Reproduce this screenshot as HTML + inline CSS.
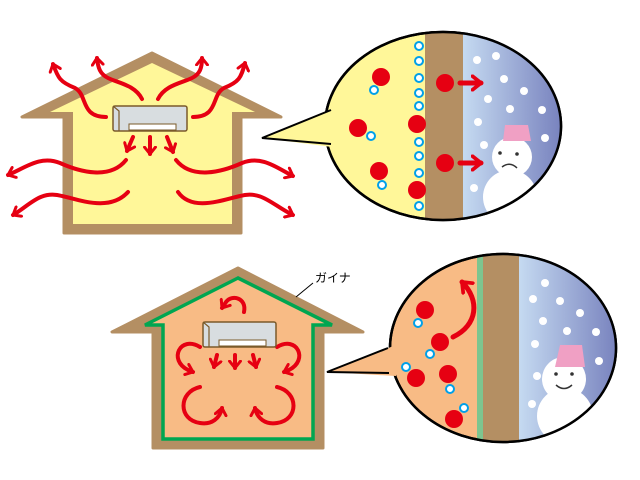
<!DOCTYPE html>
<html><head><meta charset="utf-8"><style>html,body{margin:0;padding:0;background:#fff}svg{display:block}</style></head><body>
<svg width="640" height="480" viewBox="0 0 640 480" xmlns="http://www.w3.org/2000/svg">
<defs>
<marker id="ah" viewBox="0 0 10 10" refX="6" refY="5" markerWidth="3.4" markerHeight="3.4" orient="auto" markerUnits="strokeWidth">
<polyline points="1,1 6,5 1,9" fill="none" stroke="#e60012" stroke-width="2.2" stroke-linecap="round" stroke-linejoin="round"/>
</marker>
<linearGradient id="sky" x1="0" x2="1" y1="0" y2="0"><stop offset="0" stop-color="#c5daf1"/><stop offset="1" stop-color="#6f78b8"/></linearGradient>
<clipPath id="c1"><ellipse cx="443" cy="126" rx="118" ry="94"/></clipPath>
<clipPath id="c2"><ellipse cx="503" cy="348" rx="113" ry="94"/></clipPath>
</defs>

<!-- TOP HOUSE -->
<polygon points="152,53 22,117 64,117 64,233 241,233 241,117 281,117" fill="#b48f63" stroke="#b48f63" stroke-width="3" stroke-linejoin="round"/>
<polygon points="152,63 50,112 73,112 73,224 232,224 232,112 255,112" fill="#fff799"/>
<g fill="none" stroke="#e60012" stroke-width="4" stroke-linecap="round" marker-end="url(#ah)">
<path d="M106,117 C80,117 88,95 75,88 C60,82 58,78 53,64"/>
<path d="M142,99 C135,85 118,83 108,78 C100,74 98,68 97,58"/>
<path d="M158,99 C165,85 182,83 192,78 C200,74 202,68 202,58"/>
<path d="M193,117 C219,117 211,95 224,88 C239,82 241,78 245,63"/>
<path d="M133,137 L127,151"/>
<path d="M150,137 L150,154"/>
<path d="M167,137 L173,152"/>
<path d="M126,160 C110,180 80,172 60,163 C40,155 25,168 8,175"/>
<path d="M128,192 C110,212 80,200 62,196 C40,190 30,205 13,215"/>
<path d="M176,160 C192,180 222,172 242,163 C262,155 277,168 293,176"/>
<path d="M178,192 C192,212 222,200 240,196 C262,190 272,205 293,215"/>
</g>
<rect x="113" y="106" width="74" height="25" rx="2" fill="#d8dde0" stroke="#7a5a2a" stroke-width="1.5"/>
<path d="M113,106 L119,111 L119,131" fill="none" stroke="#7a5a2a" stroke-width="1.2"/>
<rect x="129" y="124" width="47" height="6" fill="#fff" stroke="#7a5a2a" stroke-width="1"/>

<!-- TOP BUBBLE -->
<ellipse cx="443" cy="126" rx="118" ry="94" fill="#fff799" stroke="#000" stroke-width="2.5"/>
<g clip-path="url(#c1)">
<rect x="463" y="20" width="110" height="210" fill="url(#sky)"/>
<rect x="425" y="20" width="38" height="210" fill="#b48f63"/>
<g fill="#fff">
<circle cx="477" cy="60" r="4"/><circle cx="496" cy="56" r="4"/><circle cx="504" cy="79" r="4"/><circle cx="524" cy="91" r="4"/><circle cx="488" cy="99" r="4"/><circle cx="510" cy="109" r="4"/><circle cx="542" cy="110" r="4"/><circle cx="478" cy="122" r="4"/><circle cx="545" cy="138" r="4"/><circle cx="484" cy="145" r="4"/><circle cx="474" cy="188" r="4"/>
<circle cx="510" cy="197" r="27"/><circle cx="512" cy="157" r="20"/>
</g>
<polygon points="505,125 528,125 531,141 503,141" fill="#f0a0c4"/>
<circle cx="500" cy="153" r="1.8" fill="#333"/><circle cx="517" cy="154" r="1.8" fill="#333"/>
<path d="M502,167 Q510,161 517,168" fill="none" stroke="#333" stroke-width="1.5"/>
</g>
<ellipse cx="443" cy="126" rx="118" ry="94" fill="none" stroke="#000" stroke-width="2.5"/>
<polygon points="262,138 336,108 340,148" fill="#fff799"/>
<polyline points="331,110 262,138 331,144" fill="none" stroke="#000" stroke-width="2"/>
<g fill="#e60012">
<circle cx="381" cy="77" r="9"/><circle cx="358" cy="128" r="9"/><circle cx="379" cy="171" r="9"/><circle cx="417" cy="124" r="9"/><circle cx="417" cy="190" r="9"/><circle cx="445" cy="83" r="9"/><circle cx="445" cy="163" r="9"/>
</g>
<g fill="#fff" stroke="#00a0e9" stroke-width="2">
<circle cx="374" cy="90" r="4"/><circle cx="371" cy="136" r="4"/><circle cx="382" cy="185" r="4"/>
<circle cx="419" cy="46" r="4"/><circle cx="419" cy="61" r="4"/><circle cx="419" cy="78" r="4"/><circle cx="419" cy="93" r="4"/><circle cx="419" cy="106" r="4"/><circle cx="419" cy="142" r="4"/><circle cx="419" cy="156" r="4"/><circle cx="419" cy="173" r="4"/><circle cx="419" cy="206" r="4"/>
</g>
<g fill="none" stroke="#e60012" stroke-width="5" stroke-linecap="round" marker-end="url(#ah)">
<path d="M460,83 L481,83"/><path d="M460,163 L481,163"/>
</g>

<!-- BOTTOM HOUSE -->
<polygon points="238,268 112,332 153,332 153,448 323,448 323,332 363,332" fill="#b48f63" stroke="#b48f63" stroke-width="3" stroke-linejoin="round"/>
<polygon points="238,278 145,325 163,325 163,439 313,439 313,325 332,325" fill="#f8bb85" stroke="#00a651" stroke-width="3.5" stroke-linejoin="miter"/>
<g fill="none" stroke="#e60012" stroke-width="4" stroke-linecap="round" marker-end="url(#ah)">
<path d="M244,312 C247,298 232,294 226,302 L222,308"/>
<path d="M200,347 C180,335 168,360 188,370 L193,372"/>
<path d="M277,347 C297,335 309,360 289,370 L284,372"/>
<path d="M200,387 C178,392 178,420 200,423 C212,425 220,418 222,408"/>
<path d="M277,387 C299,392 299,420 277,423 C265,425 257,418 255,408"/>
<path d="M217,355 L214,367"/><path d="M235,355 L235,368"/><path d="M253,355 L256,367"/>
</g>
<rect x="203" y="322" width="73" height="25" rx="2" fill="#d8dde0" stroke="#7a5a2a" stroke-width="1.5"/>
<path d="M203,322 L209,327 L209,347" fill="none" stroke="#7a5a2a" stroke-width="1.2"/>
<rect x="219" y="340" width="47" height="6" fill="#fff" stroke="#7a5a2a" stroke-width="1"/>
<line x1="313" y1="283" x2="296" y2="297" stroke="#000" stroke-width="1"/>
<text x="315" y="282" font-family="Liberation Sans, Noto Sans CJK JP, sans-serif" font-size="12" fill="#000">ガイナ</text>

<!-- BOTTOM BUBBLE -->
<ellipse cx="503" cy="348" rx="113" ry="94" fill="#f8bb85" stroke="#000" stroke-width="2.5"/>
<g clip-path="url(#c2)">
<rect x="519" y="245" width="110" height="210" fill="url(#sky)"/>
<rect x="483" y="245" width="36" height="210" fill="#b48f63"/>
<rect x="477" y="245" width="6" height="210" fill="#7dc58f"/>
<g fill="#fff">
<circle cx="545" cy="283" r="4"/><circle cx="533" cy="299" r="4"/><circle cx="560" cy="301" r="4"/><circle cx="580" cy="313" r="4"/><circle cx="543" cy="321" r="4"/><circle cx="567" cy="331" r="4"/><circle cx="596" cy="332" r="4"/><circle cx="535" cy="344" r="4"/><circle cx="599" cy="361" r="4"/><circle cx="537" cy="376" r="4"/><circle cx="532" cy="404" r="4"/>
<circle cx="565" cy="416" r="28"/><circle cx="564" cy="379" r="22"/>
</g>
<polygon points="560,345 582,345 585,367 555,367" fill="#f0a0c4"/>
<circle cx="556" cy="374" r="1.8" fill="#333"/><circle cx="572" cy="374" r="1.8" fill="#333"/>
<path d="M556,385 Q564,392 572,385" fill="none" stroke="#333" stroke-width="1.5"/>
</g>
<ellipse cx="503" cy="348" rx="113" ry="94" fill="none" stroke="#000" stroke-width="2.5"/>
<polygon points="327,372 396,345 396,376" fill="#f8bb85"/>
<polyline points="388,348 327,372 389,373" fill="none" stroke="#000" stroke-width="2"/>
<path d="M453,337 C478,325 480,300 462,282" fill="none" stroke="#e60012" stroke-width="5" stroke-linecap="round" marker-end="url(#ah)"/>
<g fill="#e60012">
<circle cx="425" cy="310" r="9"/><circle cx="440" cy="342" r="9"/><circle cx="416" cy="378" r="9"/><circle cx="448" cy="374" r="9"/><circle cx="454" cy="419" r="9"/>
</g>
<g fill="#fff" stroke="#00a0e9" stroke-width="2">
<circle cx="418" cy="323" r="4"/><circle cx="430" cy="354" r="4"/><circle cx="406" cy="367" r="4"/><circle cx="450" cy="389" r="4"/><circle cx="464" cy="408" r="4"/>
</g>
</svg>
</body></html>
